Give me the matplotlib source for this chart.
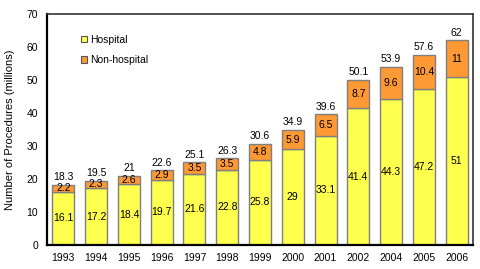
import matplotlib
matplotlib.use("Agg")
import matplotlib.pyplot as plt
from matplotlib.patches import Patch
import numpy as np

years = ["1993", "1994", "1995", "1996", "1997", "1998", "1999", "2000",
         "2001", "2002", "2004", "2005", "2006"]
hospital = [16.1, 17.2, 18.4, 19.7, 21.6, 22.8, 25.8, 29, 33.1, 41.4, 44.3, 47.2, 51]
non_hospital = [2.2, 2.3, 2.6, 2.9, 3.5, 3.5, 4.8, 5.9, 6.5, 8.7, 9.6, 10.4, 11]
totals = ["18.3", "19.5", "21", "22.6", "25.1", "26.3", "30.6", "34.9", "39.6",
          "50.1", "53.9", "57.6", "62"]
hosp_labels = ["16.1", "17.2", "18.4", "19.7", "21.6", "22.8", "25.8", "29",
               "33.1", "41.4", "44.3", "47.2", "51"]
nonhosp_labels = ["2.2", "2.3", "2.6", "2.9", "3.5", "3.5", "4.8", "5.9", "6.5",
                  "8.7", "9.6", "10.4", "11"]

plt.rcParams['font.family'] = ['Liberation Sans', 'DejaVu Sans']
fs = 7.5

fig = plt.figure(figsize=(4.8, 2.69), dpi=100)
ax = fig.add_axes([47/480, 1 - 245/269, 426/480, 231/269])

x = np.arange(len(years))
yellow = "#FFFF4D"
orange = "#FF9933"
edge = "#7F7F7F"
w = 0.67
ax.bar(x, hospital, width=w, color=yellow, edgecolor=edge, linewidth=1.0)
ax.bar(x, non_hospital, width=w, bottom=hospital, color=orange, edgecolor=edge, linewidth=1.0)

for i in range(len(years)):
    ax.text(x[i], hospital[i] / 2, hosp_labels[i], ha="center", va="center", fontsize=fs)
    ax.text(x[i], hospital[i] + non_hospital[i] / 2, nonhosp_labels[i], ha="center", va="center", fontsize=fs)
    ax.text(x[i], hospital[i] + non_hospital[i] + 0.8, totals[i], ha="center", va="bottom", fontsize=fs)

ax.set_xlim(-0.5, len(years) - 0.5)
ax.set_ylim(0, 70)
ax.set_yticks(range(0, 71, 10))
ax.set_xticks(x)
ax.set_xticklabels(years)
ax.tick_params(axis="both", labelsize=fs, length=0, pad=6)
ax.tick_params(axis="y", pad=6.5)
ax.set_ylabel("Number of Procedures (millions)", fontsize=fs + 0.5, labelpad=8)

for s in ["left", "bottom"]:
    ax.spines[s].set_linewidth(1.6)
    ax.spines[s].set_color("black")
for s in ["top", "right"]:
    ax.spines[s].set_linewidth(1.2)
    ax.spines[s].set_color("#333333")

handles = [Patch(facecolor=yellow, edgecolor="#555555", linewidth=0.8, label="Hospital"),
           Patch(facecolor=orange, edgecolor="#555555", linewidth=0.8, label="Non-hospital")]
ax.legend(handles=handles, loc="upper left", bbox_to_anchor=(0.08, 0.91), frameon=False,
          fontsize=fs, handlelength=0.6, handleheight=0.6, handletextpad=0.3,
          labelspacing=1.0, borderaxespad=0, borderpad=0)

fig.savefig("out.png", dpi=100)
